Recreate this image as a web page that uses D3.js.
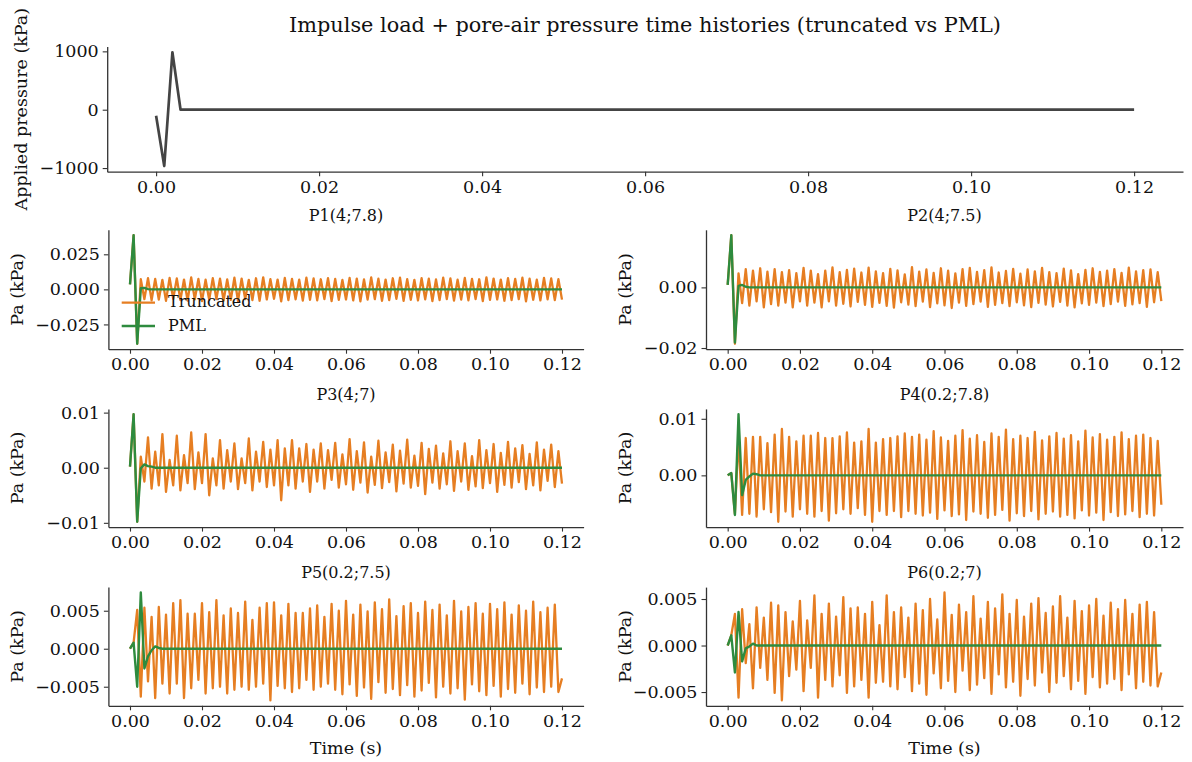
<!DOCTYPE html>
<html><head><meta charset="utf-8">
<script src="https://cdn.jsdelivr.net/npm/d3@7"></script>
<style>
body{margin:0;background:#fff}
text{font-family:"DejaVu Serif",serif;fill:#111}
</style>
</head><body>
<svg id="c" width="1192" height="762"></svg>
<script>
// ---------------- DATA ----------------
// sample times: 0 … 0.12 s, 1 ms step (121 samples)
const time = d3.range(121).map(i => +(i * 0.001).toFixed(3));

// applied impulse load (kPa)
const loadTime   = [0, 0.001, 0.002, 0.003, 0.12];
const loadValues = [-103, -965, 984, 0, 0];

const xTickValues = [0, 0.02, 0.04, 0.06, 0.08, 0.10, 0.12];
const loadTicks   = [-1000, 0, 1000];

const probeNames = ["P1(4;7.8)", "P2(4;7.5)", "P3(4;7)", "P4(0.2;7.8)", "P5(0.2;7.5)", "P6(0.2;7)"];
const seriesNames = ["Truncated", "PML"];

// P1 (kPa)
const p1Truncated = [.0035,.0386,-.0388,
 .0072,-.0070,.0080,-.0078,.0075,-.0073,.0068,-.0082,.0082,-.0068,.0078,-.0076,.0070,-.0080,.0085,-.0071,.0074,-.0084,.0069,-.0074,
 .0080,-.0069,.0076,-.0079,.0071,-.0075,.0083,-.0083,.0077,-.0070,.0068,-.0077,.0079,-.0081,.0086,-.0072,.0073,-.0068,.0070,-.0085,
 .0081,-.0076,.0075,-.0071,.0069,-.0080,.0084,-.0074,.0078,-.0078,.0072,-.0069,.0080,-.0083,.0074,-.0075,.0067,-.0072,.0082,-.0079,
 .0077,-.0086,.0071,-.0073,.0085,-.0070,.0076,-.0081,.0070,-.0076,.0079,-.0068,.0083,-.0082,.0073,-.0074,.0068,-.0079,.0080,-.0071,
 .0076,-.0084,.0071,-.0077,.0084,-.0070,.0078,-.0080,.0069,-.0073,.0081,-.0078,.0075,-.0069,.0072,-.0083,.0086,-.0075,.0077,-.0072,
 .0070,-.0081,.0080,-.0076,.0074,-.0070,.0083,-.0085,.0076,-.0074,.0069,-.0079,.0082,-.0071,.0078,-.0077,.0073,-.0073];
const p1PML = [.0035,.0386,-.0388,.0008,.0010,.0002,
 0,0,0,0,0,0,0,0,0,0, 0,0,0,0,0,0,0,0,0,0, 0,0,0,0,0,0,0,0,0,0, 0,0,0,0,0,0,0,0,0,0,
 0,0,0,0,0,0,0,0,0,0, 0,0,0,0,0,0,0,0,0,0, 0,0,0,0,0,0,0,0,0,0, 0,0,0,0,0,0,0,0,0,0,
 0,0,0,0,0,0,0,0,0,0, 0,0,0,0,0,0,0,0,0,0, 0,0,0,0,0,0,0,0,0,0, 0,0,0,0,0];

// P2
const p2Truncated = [.0008,.0172,-.0186,
 .0046,-.0052,.0060,-.0060,.0055,-.0046,.0063,-.0066,.0052,-.0055,.0060,-.0060,.0050,-.0050,.0057,-.0066,.0047,-.0046,.0064,-.0060,
 .0055,-.0050,.0044,-.0066,.0055,-.0046,.0066,-.0060,.0050,-.0054,.0058,-.0063,.0062,-.0048,.0049,-.0058,.0065,-.0064,.0053,-.0051,
 .0047,-.0061,.0061,-.0067,.0056,-.0049,.0043,-.0057,.0067,-.0062,.0052,-.0047,.0059,-.0065,.0048,-.0053,.0063,-.0059,.0055,-.0068,
 .0046,-.0050,.0060,-.0061,.0064,-.0055,.0051,-.0047,.0057,-.0064,.0066,-.0058,.0049,-.0052,.0054,-.0062,.0061,-.0049,.0045,-.0059,
 .0059,-.0065,.0053,-.0051,.0064,-.0057,.0050,-.0063,.0047,-.0048,.0062,-.0060,.0056,-.0066,.0044,-.0053,.0058,-.0058,.0063,-.0050,
 .0051,-.0062,.0055,-.0055,.0060,-.0047,.0048,-.0061,.0065,-.0056,.0053,-.0052,.0057,-.0064,.0059,-.0049,.0050,-.0045];
const p2PML = [.0008,.0172,-.0182,.0005,.0008,.0002,
 0,0,0,0,0,0,0,0,0,0, 0,0,0,0,0,0,0,0,0,0, 0,0,0,0,0,0,0,0,0,0, 0,0,0,0,0,0,0,0,0,0,
 0,0,0,0,0,0,0,0,0,0, 0,0,0,0,0,0,0,0,0,0, 0,0,0,0,0,0,0,0,0,0, 0,0,0,0,0,0,0,0,0,0,
 0,0,0,0,0,0,0,0,0,0, 0,0,0,0,0,0,0,0,0,0, 0,0,0,0,0,0,0,0,0,0, 0,0,0,0,0];

// P3
const p3Truncated = [.0002,.0097,-.0098,
 .0020,-.0025,.0055,-.0038,.0029,-.0032,.0061,-.0044,.0014,-.0032,.0058,-.0041,.0023,-.0028,.0064,-.0039,.0028,-.0028,.0061,-.0050,
 .0017,-.0032,.0050,-.0038,.0032,-.0025,.0044,-.0039,.0017,-.0028,.0053,-.0041,.0029,-.0025,.0047,-.0035,.0033,-.0032,.0050,-.0059,
 .0035,-.0032,.0050,-.0038,.0035,-.0025,.0043,-.0044,.0033,-.0025,.0044,-.0038,.0032,-.0022,.0045,-.0036,
 .0024,-.0030,.0052,-.0040,.0030,-.0027,.0046,-.0045,.0020,-.0031,.0049,-.0037,.0028,-.0026,.0042,-.0043,.0031,-.0029,.0051,-.0036,
 .0022,-.0033,.0045,-.0048,.0034,-.0027,.0040,-.0038,.0026,-.0030,.0048,-.0042,.0030,-.0025,.0044,-.0040,.0021,-.0034,.0050,-.0037,
 .0032,-.0028,.0043,-.0044,.0027,-.0031,.0047,-.0036,.0035,-.0026,.0041,-.0039,.0025,-.0032,.0046,-.0041,.0033,-.0024,.0042,-.0035,
 .0030,-.0029];
const p3PML = [.0002,.0097,-.0098,-.0001,.0006,.0003,.0002,
 0,0,0,0,0,0,0,0,0,0, 0,0,0,0,0,0,0,0,0,0, 0,0,0,0,0,0,0,0,0,0, 0,0,0,0,0,0,0,0,0,0,
 0,0,0,0,0,0,0,0,0,0, 0,0,0,0,0,0,0,0,0,0, 0,0,0,0,0,0,0,0,0,0, 0,0,0,0,0,0,0,0,0,0,
 0,0,0,0,0,0,0,0,0,0, 0,0,0,0,0,0,0,0,0,0, 0,0,0,0,0,0,0,0,0,0, 0,0,0,0];

// P4
const p4Truncated = [0,.0004,-.0068,
 .0069,-.0070,.0066,-.0068,.0068,-.0073,.0068,-.0060,.0057,-.0065,.0072,-.0082,.0082,-.0064,.0068,-.0073,.0060,-.0060,.0070,-.0068,
 .0070,-.0073,.0075,-.0063,.0066,-.0080,.0066,-.0067,.0069,-.0060,.0076,-.0068,.0058,-.0058,.0060,-.0070,.0082,-.0082,.0058,-.0063,
 .0064,-.0070,.0066,-.0063,.0069,-.0074,.0074,-.0063,.0068,-.0068,
 .0072,-.0071,.0063,-.0066,.0078,-.0077,.0067,-.0062,.0061,-.0072,.0070,-.0069,.0080,-.0079,.0065,-.0064,.0071,-.0068,.0059,-.0075,
 .0074,-.0070,.0068,-.0061,.0081,-.0080,.0064,-.0067,.0070,-.0072,.0066,-.0063,.0077,-.0078,.0062,-.0068,.0069,-.0064,.0075,-.0073,
 .0065,-.0070,.0071,-.0076,.0060,-.0062,.0079,-.0071,.0067,-.0066,.0073,-.0079,.0063,-.0065,.0068,-.0072,.0076,-.0069,.0064,-.0063,
 .0070,-.0074,.0072,-.0068,.0066,-.0071,.0061,-.0052];
const p4PML = [0,.0004,-.0070,.0108,-.0035,-.0008,-.0002,.0003,.0002,
 0,0,0,0,0,0,0,0,0,0, 0,0,0,0,0,0,0,0,0,0, 0,0,0,0,0,0,0,0,0,0, 0,0,0,0,0,0,0,0,0,0,
 0,0,0,0,0,0,0,0,0,0, 0,0,0,0,0,0,0,0,0,0, 0,0,0,0,0,0,0,0,0,0, 0,0,0,0,0,0,0,0,0,0,
 0,0,0,0,0,0,0,0,0,0, 0,0,0,0,0,0,0,0,0,0, 0,0,0,0,0,0,0,0,0,0, 0,0];

// P5
const p5Truncated = [0,.0008,.0051,
 -.0063,.0054,-.0043,.0042,-.0065,.0055,-.0046,.0045,-.0059,.0060,-.0046,.0064,-.0065,.0046,-.0052,.0046,-.0041,.0060,-.0059,.0048,
 -.0052,.0064,-.0050,.0044,-.0059,.0053,-.0054,.0047,-.0050,.0062,-.0054,.0038,-.0050,.0054,-.0046,.0060,-.0068,.0061,-.0049,.0044,
 -.0052,.0059,-.0057,.0047,-.0052,.0047,-.0041,.0053,-.0054,.0057,-.0050,.0042,-.0046,.0059,
 -.0054,.0050,-.0060,.0063,-.0047,.0045,-.0062,.0058,-.0051,.0049,-.0066,.0061,-.0044,.0052,-.0058,.0065,-.0053,.0043,-.0061,.0056,
 -.0048,.0060,-.0063,.0047,-.0055,.0062,-.0045,.0051,-.0064,.0058,-.0050,.0044,-.0059,.0063,-.0052,.0049,-.0067,.0055,-.0047,.0060,
 -.0056,.0046,-.0061,.0059,-.0049,.0052,-.0063,.0061,-.0053,.0045,-.0058,.0057,-.0046,.0050,-.0060,.0062,-.0051,.0048,-.0057,.0054,
 -.0050,.0058,-.0057,-.0039];
const p5PML = [0,.0008,-.0050,.0074,-.0026,-.0010,-.0002,.0003,.0001,
 0,0,0,0,0,0,0,0,0,0, 0,0,0,0,0,0,0,0,0,0, 0,0,0,0,0,0,0,0,0,0, 0,0,0,0,0,0,0,0,0,0,
 0,0,0,0,0,0,0,0,0,0, 0,0,0,0,0,0,0,0,0,0, 0,0,0,0,0,0,0,0,0,0, 0,0,0,0,0,0,0,0,0,0,
 0,0,0,0,0,0,0,0,0,0, 0,0,0,0,0,0,0,0,0,0, 0,0,0,0,0,0,0,0,0,0, 0,0];

// P6
const p6Truncated = [0,.0011,.0034,
 -.0056,.0039,-.0019,.0023,-.0046,.0041,-.0024,.0030,-.0037,.0046,-.0051,.0043,-.0059,.0036,-.0033,.0026,-.0026,.0048,-.0049,.0027,
 -.0024,.0054,-.0056,.0034,-.0037,.0045,-.0044,.0031,-.0032,.0052,-.0051,.0040,-.0044,.0041,-.0037,.0034,-.0056,.0047,-.0040,.0022,
 -.0039,.0054,-.0044,.0036,-.0047,.0041,-.0034,.0030,-.0049,.0045,
 -.0041,.0038,-.0053,.0050,-.0030,.0028,-.0046,.0057,-.0038,.0033,-.0050,.0044,-.0027,.0036,-.0048,.0053,-.0042,.0029,-.0035,.0047,
 -.0052,.0040,-.0031,.0055,-.0045,.0034,-.0039,.0049,-.0054,.0031,-.0036,.0045,-.0043,.0051,-.0029,.0035,-.0050,.0042,-.0040,.0053,
 -.0033,.0030,-.0047,.0048,-.0038,.0037,-.0052,.0043,-.0034,.0050,-.0045,.0032,-.0041,.0046,-.0036,.0039,-.0048,.0049,-.0031,.0034,
 -.0046,.0044,-.0039,.0047,-.0043,.0036,-.0044,-.0029];
const p6PML = [0,.0011,-.0029,.0036,-.0017,-.0003,-.0001,.0002,
 0,0,0,0,0,0,0,0,0,0, 0,0,0,0,0,0,0,0,0,0, 0,0,0,0,0,0,0,0,0,0, 0,0,0,0,0,0,0,0,0,0,
 0,0,0,0,0,0,0,0,0,0, 0,0,0,0,0,0,0,0,0,0, 0,0,0,0,0,0,0,0,0,0, 0,0,0,0,0,0,0,0,0,0,
 0,0,0,0,0,0,0,0,0,0, 0,0,0,0,0,0,0,0,0,0, 0,0,0,0,0,0,0,0,0,0, 0,0,0];

const probeTicks = [
  [-0.025, 0, 0.025],
  [-0.02, 0],
  [-0.01, 0, 0.01],
  [0, 0.01],
  [-0.005, 0, 0.005],
  [-0.005, 0, 0.005]
];
const probeTickFormats = [".3f", ".2f", ".2f", ".2f", ".3f", ".3f"];
const truncatedSeries = [p1Truncated, p2Truncated, p3Truncated, p4Truncated, p5Truncated, p6Truncated];
const pmlSeries = [p1PML, p2PML, p3PML, p4PML, p5PML, p6PML];

// ---------------- STYLE / LAYOUT ----------------
const COL_TRUNC = "#e67e22";
const COL_PML = "#2e8b3e";
const COL_LOAD = "#444444";
const SPINE = "#333333";
const FS = 17.5;

const svg = d3.select("#c");

function padDomain(lo, hi) { const m = (hi - lo) * 0.05; return [lo - m, hi + m]; }

const colX = [[108.4, 583.6], [706, 1183]];
const rowY = [[229.8, 349.2], [408.9, 527.1], [587.1, 705.8]];

function drawAxes(g, x, y, xt, yt, yfmt) {
  const xa = d3.axisBottom(x).tickValues(xt).tickFormat(d3.format(".2f")).tickSizeInner(4.5).tickSizeOuter(0).tickPadding(4);
  const ya = d3.axisLeft(y).tickValues(yt).tickFormat(yfmt).tickSizeInner(4.5).tickSizeOuter(0).tickPadding(4);
  const gx = g.append("g").attr("transform", `translate(0,${y.range()[0]})`).call(xa);
  const gy = g.append("g").attr("transform", `translate(${x.range()[0]},0)`).call(ya);
  [gx, gy].forEach(a => {
    a.select(".domain").attr("stroke", SPINE).attr("stroke-width", 1.3);
    a.selectAll(".tick line").attr("stroke", SPINE).attr("stroke-width", 1.1);
    a.selectAll(".tick text").attr("font-family", "DejaVu Serif").attr("font-size", FS).attr("fill", "#111");
  });
}

// ---- top panel (load) ----
{
  const x = d3.scaleLinear().domain(padDomain(0, 0.12)).range([107.2, 1183]);
  const ext = d3.extent(loadValues);
  const y = d3.scaleLinear().domain(padDomain(ext[0], ext[1])).range([171.7, 46.6]);
  const g = svg.append("g");
  const line = d3.line().x((d, i) => x(loadTime[i])).y(d => y(d));
  g.append("path").datum(loadValues).attr("d", line).attr("fill", "none")
    .attr("stroke", COL_LOAD).attr("stroke-width", 2.7).attr("stroke-linejoin", "round");
  drawAxes(g, x, y, xTickValues, loadTicks, d3.format("d"));
  g.append("text").attr("transform", `translate(22,${(46.6 + 171.7) / 2}) rotate(-90)`)
    .attr("text-anchor", "middle").attr("dominant-baseline", "middle").attr("font-size", FS).text("Applied pressure (kPa)");
}

svg.append("text").attr("x", 645).attr("y", 32).attr("text-anchor", "middle").attr("font-size", 20.8)
  .text("Impulse load + pore-air pressure time histories (truncated vs PML)");

// ---- probe panels ----
probeNames.forEach((name, k) => {
  const col = k % 2, row = Math.floor(k / 2);
  const [x0, x1] = colX[col], [y0, y1] = rowY[row];
  const x = d3.scaleLinear().domain(padDomain(0, 0.12)).range([x0, x1]);
  const all = truncatedSeries[k].concat(pmlSeries[k]);
  const ext = d3.extent(all);
  const y = d3.scaleLinear().domain(padDomain(ext[0], ext[1])).range([y1, y0]);
  const g = svg.append("g");
  const line = d3.line().defined((d, i) => i < time.length).x((d, i) => x(time[i])).y(d => y(d));
  g.append("path").datum(truncatedSeries[k]).attr("d", line).attr("fill", "none")
    .attr("stroke", COL_TRUNC).attr("stroke-width", 2.3).attr("stroke-linejoin", "round");
  g.append("path").datum(pmlSeries[k]).attr("d", line).attr("fill", "none")
    .attr("stroke", COL_PML).attr("stroke-width", 2.4).attr("stroke-linejoin", "round");
  drawAxes(g, x, y, xTickValues, probeTicks[k], d3.format(probeTickFormats[k]));
  g.append("text").attr("x", (x0 + x1) / 2).attr("y", y0 - 9).attr("text-anchor", "middle")
    .attr("font-size", 16).text(name);
  const ylx = col === 0 ? 18 : 626;
  g.append("text").attr("transform", `translate(${ylx},${(y0 + y1) / 2}) rotate(-90)`)
    .attr("text-anchor", "middle").attr("dominant-baseline", "middle").attr("font-size", FS).text("Pa (kPa)");
  if (row === 2) {
    g.append("text").attr("x", (x0 + x1) / 2).attr("y", 754).attr("text-anchor", "middle")
      .attr("font-size", FS).text("Time (s)");
  }
  if (k === 0) {
    const lg = g.append("g");
    const cols = [COL_TRUNC, COL_PML];
    seriesNames.forEach((s, j) => {
      const yy = 302.7 + j * 23.3;
      lg.append("line").attr("x1", 121.7).attr("x2", 155).attr("y1", yy).attr("y2", yy)
        .attr("stroke", cols[j]).attr("stroke-width", j ? 2.4 : 2.3);
      lg.append("text").attr("x", 168).attr("y", yy).attr("dominant-baseline", "middle")
        .attr("font-size", 16).text(s);
    });
  }
});
</script>
</body></html>
